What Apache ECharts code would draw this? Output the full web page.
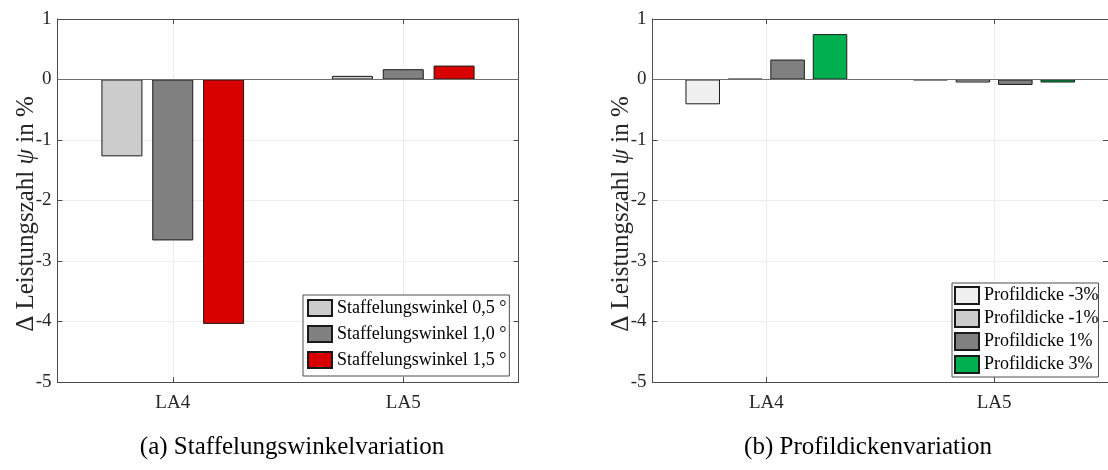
<!DOCTYPE html>
<html>
<head>
<meta charset="utf-8">
<script src="https://cdn.jsdelivr.net/npm/echarts@6/dist/echarts.min.js"></script>
<style>
  html, body { margin: 0; padding: 0; background: #fff; }
  #chart { width: 1108px; height: 470px; }
</style>
</head>
<body>
<div id="chart"></div>
<script>
// data
var categories = ['LA4', 'LA5'];
var yTicks = [-5, -4, -3, -2, -1, 0, 1];

var staffelNames = ['Staffelungswinkel 0,5 °', 'Staffelungswinkel 1,0 °', 'Staffelungswinkel 1,5 °'];
var staffel05 = [-1.27, 0.06];
var staffel10 = [-2.66, 0.17];
var staffel15 = [-4.04, 0.23];
var staffelColors = ['#cccccc', '#808080', '#d90000'];

var profilNames = ['Profildicke -3%', 'Profildicke -1%', 'Profildicke 1%', 'Profildicke 3%'];
var profilM3 = [-0.41, -0.01];
var profilM1 = [0.01, -0.05];
var profilP1 = [0.33, -0.09];
var profilP3 = [0.75, -0.05];
var profilColors = ['#f0f0f0', '#cccccc', '#808080', '#00b050'];

var captions = ['(a) Staffelungswinkelvariation', '(b) Profildickenvariation'];

var font = '"Liberation Serif", "DejaVu Serif", serif';
var boxColor = '#4d4d4d';

var chart = echarts.init(document.getElementById('chart'), null, {renderer: 'canvas'});

function bottomX(grid) {
    return {
        type: 'category', gridIndex: grid, data: categories, position: 'bottom',
        axisLine: {show: true, onZero: false, lineStyle: {color: boxColor, width: 1}},
        axisTick: {show: true, inside: true, length: 5, alignWithLabel: true, lineStyle: {color: boxColor}},
        axisLabel: {fontFamily: font, fontSize: 19, color: '#262626', margin: 12},
        splitLine: {show: true, alignWithLabel: true, lineStyle: {color: '#dcdcdc', type: 'dotted'}}
    };
}
function topX(grid) {
    return {
        type: 'category', gridIndex: grid, data: categories, position: 'top',
        axisLine: {show: true, onZero: false, lineStyle: {color: boxColor, width: 1}},
        axisTick: {show: true, inside: true, length: 5, alignWithLabel: true, lineStyle: {color: boxColor}},
        axisLabel: {show: false}, splitLine: {show: false}
    };
}
function leftY(grid) {
    return {
        type: 'value', gridIndex: grid, min: yTicks[0], max: yTicks[yTicks.length - 1], interval: 1,
        position: 'left',
        axisLine: {show: true, onZero: false, lineStyle: {color: boxColor, width: 1}},
        axisTick: {show: true, inside: true, length: 5, lineStyle: {color: boxColor}},
        axisLabel: {fontFamily: font, fontSize: 19, color: '#262626', margin: 6},
        splitLine: {show: true, lineStyle: {color: '#dcdcdc', type: 'dotted'}}
    };
}
function rightY(grid) {
    return {
        type: 'value', gridIndex: grid, min: yTicks[0], max: yTicks[yTicks.length - 1], interval: 1,
        position: 'right',
        axisLine: {show: true, onZero: false, lineStyle: {color: boxColor, width: 1}},
        axisTick: {show: true, inside: true, length: 5, lineStyle: {color: boxColor}},
        axisLabel: {show: false}, splitLine: {show: false}
    };
}

function bar(name, data, color, xi, yi, width, gap, withZero) {
    var s = {
        name: name, type: 'bar', data: data, xAxisIndex: xi, yAxisIndex: yi,
        barWidth: width, barGap: gap,
        itemStyle: {color: color, borderColor: '#1a1a1a', borderWidth: 1},
        emphasis: {disabled: true}
    };
    if (withZero) {
        s.markLine = {
            silent: true, symbol: 'none', label: {show: false},
            lineStyle: {color: '#6e6e6e', type: 'solid', width: 1.2},
            data: [{yAxis: 0}]
        };
    }
    return s;
}

var legendCommon = {
    orient: 'vertical', itemWidth: 24, itemHeight: 16, itemGap: 8,
    borderColor: boxColor, borderWidth: 1, backgroundColor: '#fff', borderRadius: 0,
    icon: 'rect',
    textStyle: {fontFamily: font, fontSize: 18, color: '#000'},
    selectedMode: false
};

var titleRich = {
    a: {fontFamily: font, fontSize: 25, fill: '#262626'},
    b: {fontFamily: font, fontSize: 25, fontStyle: 'italic', fill: '#262626'}
};

var option = {
    animation: false,
    grid: [
        {left: 57.5, top: 19, width: 461, height: 363},
        {left: 652.5, top: 19, width: 462, height: 363}
    ],
    xAxis: [bottomX(0), topX(0), bottomX(1), topX(1)],
    yAxis: [leftY(0), rightY(0), leftY(1), rightY(1)],
    legend: [
        Object.assign({}, legendCommon, {data: staffelNames, left: 303, top: 295, padding: [4, 3, 7, 4]}),
        Object.assign({}, legendCommon, {data: profilNames, left: 952, top: 283, itemGap: 4, itemHeight: 17,
            padding: [3, 0, 3, 2]})
    ],
    series: [
        bar(staffelNames[0], staffel05, staffelColors[0], 0, 0, 41, '24%', true),
        bar(staffelNames[1], staffel10, staffelColors[1], 0, 0, 41, '24%'),
        bar(staffelNames[2], staffel15, staffelColors[2], 0, 0, 41, '24%'),
        bar(profilNames[0], profilM3, profilColors[0], 2, 2, 34.5, '23%', true),
        bar(profilNames[1], profilM1, profilColors[1], 2, 2, 34.5, '23%'),
        bar(profilNames[2], profilP1, profilColors[2], 2, 2, 34.5, '23%'),
        bar(profilNames[3], profilP3, profilColors[3], 2, 2, 34.5, '23%')
    ],
    graphic: [
        {type: 'text', x: 26, y: 214, rotation: Math.PI / 2,
            style: {text: '{a|Δ Leistungszahl }{b|ψ}{a| in %}', align: 'center', verticalAlign: 'middle',
                rich: titleRich}},
        {type: 'text', x: 621, y: 214, rotation: Math.PI / 2,
            style: {text: '{a|Δ Leistungszahl }{b|ψ}{a| in %}', align: 'center', verticalAlign: 'middle',
                rich: titleRich}},
        {type: 'text', x: 292, y: 447,
            style: {text: captions[0], align: 'center', verticalAlign: 'middle',
                fontFamily: font, fontSize: 25, fill: '#000'}},
        {type: 'text', x: 868, y: 447,
            style: {text: captions[1], align: 'center', verticalAlign: 'middle',
                fontFamily: font, fontSize: 25, fill: '#000'}}
    ]
};

chart.setOption(option);
</script>
</body>
</html>
